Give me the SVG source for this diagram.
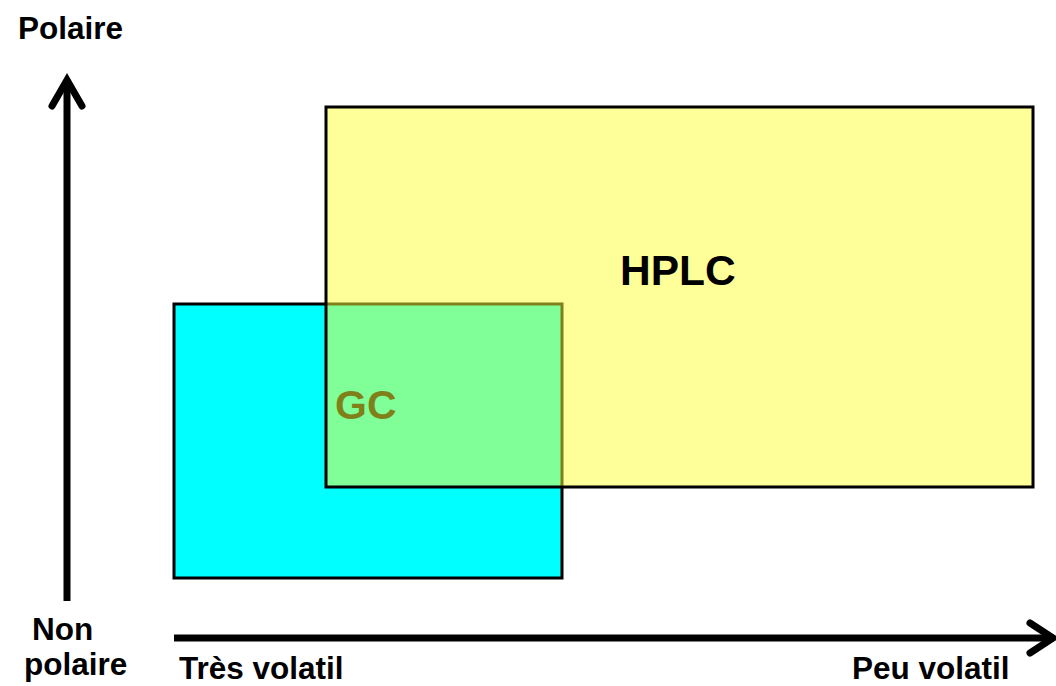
<svg xmlns="http://www.w3.org/2000/svg" width="1056" height="686" viewBox="0 0 1056 686">
  <style>
    .lbl { font-family: "Liberation Sans", Arial, sans-serif; font-weight: bold; fill: #000; }
    .axis { font-size: 31.5px; }
    .big { font-size: 42.5px; }
    .ax { stroke: #000; stroke-width: 7; fill: none; stroke-linecap: butt; }
    .head { stroke: #000; stroke-width: 7; fill: none; stroke-linecap: round; stroke-linejoin: miter; }
  </style>
  <rect width="1056" height="686" fill="#fff"/>

  <!-- GC domain -->
  <g id="gc">
    <rect x="174" y="304" width="388" height="274" fill="#00FFFF" stroke="#000" stroke-width="3"/>
    <text class="lbl big" x="335" y="419" style="font-size:41px">GC</text>
  </g>

  <!-- HPLC domain, translucent so GC shows through -->
  <g id="hplc">
    <rect x="326" y="107" width="707" height="380" fill="#FFFF33" fill-opacity="0.5" stroke="#000" stroke-width="3"/>
    <text class="lbl big" x="620" y="285">HPLC</text>
  </g>

  <!-- axes -->
  <g id="connectors">
    <line class="ax" x1="67" y1="601" x2="67" y2="82"/>
    <polyline class="head" points="52,106 67,80 82,106"/>
    <line class="ax" x1="174" y1="638" x2="1050" y2="638"/>
    <polyline class="head" points="1030,623 1053,638 1030,653"/>
  </g>

  <g id="labels">
    <text class="lbl axis" x="18" y="39">Polaire</text>
    <text class="lbl axis" x="32" y="640">Non</text>
    <text class="lbl axis" x="24" y="675">polaire</text>
    <text class="lbl axis" x="179" y="679">Très volatil</text>
    <text class="lbl axis" x="852" y="679">Peu volatil</text>
  </g>
</svg>
